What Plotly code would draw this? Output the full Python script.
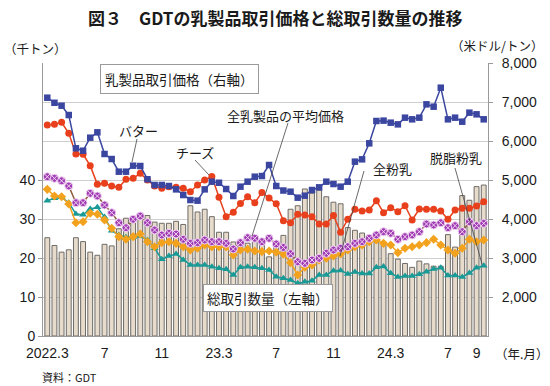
import plotly.graph_objects as go

# ---- data (semi-monthly GDT auctions, 2022.3 – 2024.9) ----
n_points = 62
idx = list(range(n_points))
tick_pos = [0, 8, 16, 24, 32, 40, 48, 56, 60]
tick_text = ["2022.3", "7", "11", "23.3", "7", "11", "24.3", "7", "9"]

volume = [25.2, 23.2, 21.5, 22.1, 25.2, 24.2, 21.5, 20.7, 23.5, 23.1,
          27.5, 30.2, 29.8, 30.6, 30.9, 29.2, 28.9, 28.9, 29.4, 28.6,
          33.4, 31.8, 32.5, 30.6, 26.6, 26.6, 24.1, 23.7, 23.8, 24.3,
          24.8, 20.3, 24.0, 25.8, 32.5, 33.4, 37.7, 36.6, 37.4, 35.7,
          34.3, 33.9, 27.8, 27.1, 26.4, 25.3, 24.0, 23.4, 21.1, 19.7,
          18.6, 17.6, 19.2, 18.5, 17.9, 17.9, 26.0, 22.8, 36.0, 34.8,
          38.3, 38.7]

butter = [7110, 6980, 6905, 6666, 5813, 5751, 6085, 6222, 5667, 5538,
          5213, 5213, 5367, 5359, 5020, 4872, 4872, 4846, 4760, 4615,
          4487, 4470, 4760, 4957, 4930, 4769, 4590, 4829, 4957, 5085,
          5102, 5385, 4846, 4730, 4700, 4547, 4598, 4743, 4812, 4957,
          4897, 4829, 4957, 5470, 5530, 5940, 6513, 6522, 6470, 6427,
          6598, 6556, 6598, 6940, 6880, 7367, 6556, 6598, 6495, 6726,
          6684, 6556]

cheese = [6410, 6427, 6479, 6197, 5667, 5658, 5367, 4889, 4915, 4846,
          4812, 5017, 5043, 5171, 5000, 4846, 4787, 4829, 4812, 4787,
          4700, 4872, 5000, 5090, 4560, 4060, 4175, 4400, 4572, 4418,
          4680, 4540, 4390, 3957, 3905, 4120, 4102, 4060, 3872, 3872,
          4090, 3660, 3992, 4248, 4205, 4230, 4470, 4162, 4290, 4188,
          4342, 3974, 4256, 4248, 4248, 4205, 3992, 4230, 4273, 4273,
          4333, 4444]

average = [5085, 5043, 4980, 4846, 4418, 4418, 4658, 4590, 4359, 4162,
           3905, 3777, 3992, 4077, 3905, 3718, 3590, 3633, 3615, 3479,
           3376, 3393, 3461, 3418, 3418, 3376, 3231, 3393, 3521, 3505,
           3418, 3505, 3360, 3270, 3110, 2905, 2864, 2949, 2992, 3120,
           3205, 3249, 3290, 3376, 3418, 3505, 3590, 3675, 3633, 3479,
           3547, 3590, 3675, 3872, 3846, 3905, 3777, 3829, 3675, 3931,
           3829, 3889]

wmp = [4760, 4590, 4572, 4384, 3905, 3931, 4146, 4120, 3974, 3761,
       3547, 3479, 3547, 3615, 3418, 3290, 3393, 3418, 3376, 3290,
       3205, 3249, 3333, 3290, 3290, 3290, 3077, 3205, 3223, 3180,
       3163, 3180, 3150, 3100, 2880, 2564, 2761, 2820, 2949, 2992,
       3051, 3103, 3205, 3290, 3333, 3418, 3461, 3376, 3333, 3137,
       3249, 3290, 3333, 3393, 3479, 3333, 3205, 3120, 3249, 3479,
       3418, 3461]

smp = [4470, 4530, 4556, 4418, 4128, 4111, 4256, 4299, 4050, 3700,
       3590, 3530, 3530, 3564, 3461, 3249, 2967, 3051, 3103, 2949,
       2820, 2820, 2820, 2777, 2735, 2710, 2564, 2761, 2777, 2761,
       2735, 2692, 2521, 2479, 2436, 2350, 2393, 2418, 2564, 2564,
       2675, 2680, 2590, 2640, 2600, 2600, 2761, 2785, 2607, 2515,
       2540, 2540, 2585, 2650, 2715, 2750, 2550, 2550, 2510, 2615,
       2750, 2800]

JP = "Noto Sans CJK JP"
NUM = "Liberation Sans, Arial, sans-serif"

fig = go.Figure()

fig.add_trace(go.Bar(
    x=idx, y=volume, yaxis="y", width=0.68,
    marker=dict(color="#E7DCCC", line=dict(color="#6E6A66", width=1)),
    showlegend=False, hoverinfo="skip",
))

def line_trace(vals, color, lcolor, symbol, size, mline=None):
    return go.Scatter(
        x=idx, y=vals, yaxis="y2", mode="lines+markers",
        line=dict(color=lcolor, width=1.5),
        marker=dict(symbol=symbol, size=size, color=color,
                    line=mline if mline else dict(width=0)),
        showlegend=False, hoverinfo="skip",
    )

fig.add_trace(line_trace(smp, "#1A9A96", "#1A9A96", "triangle-up", 7))
fig.add_trace(line_trace(wmp, "#F3A21E", "#F3A21E", "diamond", 7))
fig.add_trace(line_trace(average, "#A03CB4", "#8E5A3C", "circle-x", 8,
                         dict(color="#F2D6F2", width=1)))
fig.add_trace(line_trace(cheese, "#E8401C", "#E8401C", "circle", 7))
fig.add_trace(line_trace(butter, "#3B46A0", "#3B46A0", "square", 6.5))

# pixel -> paper helpers (plot area: x 43..488, y 63..336)
X0, X1, Y0, Y1 = 43, 488, 63, 336
def px(x):
    return (x - X0) / (X1 - X0)
def py(y):
    return (Y1 - y) / (Y1 - Y0)

def txt(x, y, s, size=13, family=JP, **kw):
    return dict(xref="paper", yref="paper", x=px(x), y=py(y), text=s,
                showarrow=False, font=dict(family=family, size=size, color="#1a1a1a"),
                xanchor=kw.pop("xanchor", "center"), yanchor=kw.pop("yanchor", "middle"), **kw)

annotations = [
    txt(275, 18, "<b>図３　GDTの乳製品取引価格と総取引数量の推移</b>", size=17),
    txt(2, 49, "（千トン）", size=12.5, xanchor="left"),
    txt(545, 45, "（米ドル/トン）", size=12.5, xanchor="right"),
    txt(493, 353, "（年.月）", size=12.5, xanchor="left"),
    txt(40, 377, "資料：GDT", size=11, xanchor="left"),
    txt(179.5, 79, "乳製品取引価格（右軸）", size=13.5,
        bgcolor="white", bordercolor="#9a9a9a", borderwidth=1, borderpad=4),
    txt(268, 298, "総取引数量（左軸）", size=13.5,
        bgcolor="white", bordercolor="#9a9a9a", borderwidth=1, borderpad=3),
    txt(138, 130, "バター"),
    txt(195, 152, "チーズ"),
    txt(285, 115, "全乳製品の平均価格"),
    txt(392, 168, "全粉乳"),
    txt(456, 157, "脱脂粉乳"),
]

def leader(x0, y0, x1, y1):
    return dict(type="line", xref="paper", yref="paper",
                x0=px(x0), y0=py(y0), x1=px(x1), y1=py(y1),
                line=dict(color="#444444", width=0.8))

shapes = [
    leader(137, 139, 132, 162),
    leader(195, 160, 209, 175),
    leader(288, 123, 252, 236),
    leader(364, 171, 340, 256),
    leader(455, 168, 482, 264),
]

fig.update_layout(
    width=550, height=386,
    margin=dict(l=X0, r=550 - X1, t=Y0, b=386 - Y1),
    paper_bgcolor="white", plot_bgcolor="white",
    bargap=0.3,
    xaxis=dict(range=[-0.6, 61.6], tickmode="array", tickvals=tick_pos, ticktext=tick_text,
               showgrid=False, showline=True, linecolor="#9a9a9a", linewidth=1,
               ticks="", ticklabelstandoff=4,
               tickfont=dict(family=NUM, size=14, color="#1a1a1a"),
               zeroline=False),
    yaxis=dict(range=[0, 70], tickmode="array", tickvals=[0, 10, 20, 30, 40],
               showgrid=False, showline=True, linecolor="#9a9a9a", linewidth=1,
               ticks="outside", ticklen=4, tickcolor="#9a9a9a",
               tickfont=dict(family=NUM, size=14, color="#1a1a1a"), zeroline=False),
    yaxis2=dict(range=[1000, 8000], overlaying="y", side="right",
                tickmode="array", tickvals=[2000, 3000, 4000, 5000, 6000, 7000, 8000],
                tickformat=",", showgrid=True, gridcolor="#CFCFCF", gridwidth=1,
                showline=True, linecolor="#9a9a9a", linewidth=1,
                ticks="outside", ticklen=4, tickcolor="#9a9a9a", ticklabelstandoff=6,
                tickfont=dict(family=NUM, size=14, color="#1a1a1a"), zeroline=False),
    annotations=annotations,
    shapes=shapes,
)

fig.write_html("out.html", config={"displayModeBar": False, "staticPlot": True},
               post_script="document.body.style.margin='0';document.body.style.overflow='hidden';")
